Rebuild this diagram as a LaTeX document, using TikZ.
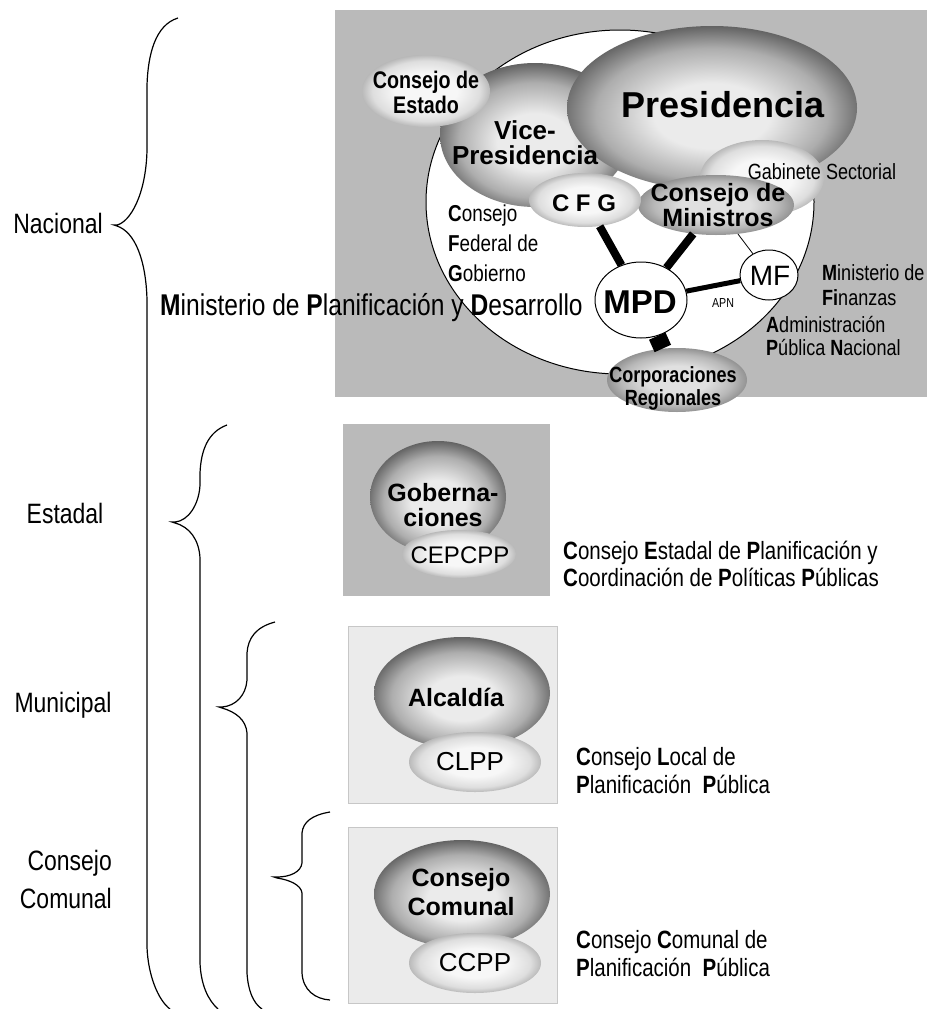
\documentclass[tikz,border=0pt]{standalone}
\usepackage{fontspec}
\setmainfont{Liberation Sans}
\newfontfamily\agency[FakeStretch=0.82]{Liberation Sans}
\usetikzlibrary{shapes.geometric}
\newcommand\myfs[2]{\fontsize{#1}{#2}\selectfont}
\definecolor{panelgray}{gray}{0.73}
\definecolor{lightpanel}{gray}{0.92}
\definecolor{panelborder}{gray}{0.78}
\definecolor{shA}{gray}{0.92}
\definecolor{shB}{gray}{0.68}
\definecolor{shC}{gray}{0.36}
\definecolor{ltA}{gray}{0.97}
\definecolor{ltB}{gray}{0.87}
\definecolor{ltC}{gray}{0.66}
\definecolor{mdA}{gray}{0.88}
\definecolor{mdB}{gray}{0.72}
\definecolor{mdC}{gray}{0.52}
\pgfdeclareradialshading{darkball}{\pgfpoint{0bp}{-3bp}}{color(0bp)=(shA); color(10bp)=(shA); color(20bp)=(shB); color(27bp)=(shC); color(50bp)=(shC)}
\pgfdeclareradialshading{lightball}{\pgfpoint{0bp}{0bp}}{color(0bp)=(ltA); color(12bp)=(ltA); color(21bp)=(ltB); color(27bp)=(ltC); color(50bp)=(ltC)}
\pgfdeclareradialshading{mediumball}{\pgfpoint{0bp}{0bp}}{color(0bp)=(mdA); color(11bp)=(mdA); color(20bp)=(mdB); color(27bp)=(mdC); color(50bp)=(mdC)}
\begin{document}
\begin{tikzpicture}[x=1pt,y=-1pt,
  bigball/.style={ellipse, inner sep=0pt, shade, shading=darkball},
  smallball/.style={ellipse, inner sep=0pt, shade, shading=lightball},
  midball/.style={ellipse, inner sep=0pt, shade, shading=mediumball},
  whiteball/.style={ellipse, inner sep=0pt, fill=white, draw=black, line width=1pt},
  brace/.style={draw=black, line width=1.2pt},
  level/.style={font=\agency\myfs{28}{38}, inner sep=0pt, align=right},
  desc/.style={font=\agency\myfs{25}{27}, inner sep=0pt, align=left, anchor=west},
  small/.style={font=\agency\myfs{22}{25}, inner sep=0pt, align=left, anchor=west},
  condbold/.style={font=\agency\bfseries\myfs{24}{25}, inner sep=0pt, align=center},
  ballbold/.style={font=\bfseries\myfs{25}{27}, inner sep=0pt, align=center},
  ballreg/.style={font=\myfs{25}{27}, inner sep=0pt, align=center},
  thick link/.style={line width=8pt, draw=black}
]
\useasboundingbox (0,0) rectangle (927,1009);

% panels
\fill[panelgray] (335,10) rectangle (927,397);
\fill[panelgray] (343,424) rectangle (550,596);
\filldraw[fill=lightpanel, draw=panelborder, line width=1pt] (348,626) rectangle (557,803);
\filldraw[fill=lightpanel, draw=panelborder, line width=1pt] (348,827) rectangle (557,1003);

% national diagram
\node[whiteball, minimum width=388pt, minimum height=344pt] (zone) at (620,202) {};
\node[bigball, minimum width=190pt, minimum height=144pt] (vice) at (535,135) {};
\node[smallball, minimum width=128pt, minimum height=72pt] (estado) at (426,91) {};
\node[bigball, minimum width=290pt, minimum height=164pt] (pres) at (712,108) {};
\node[smallball, minimum width=124pt, minimum height=76pt] (gab) at (762,178) {};
\node[midball, minimum width=156pt, minimum height=60pt] (min) at (716,205) {};
\node[smallball, minimum width=112pt, minimum height=54pt] (cfg) at (585,200) {};
\node[whiteball, minimum width=92pt, minimum height=76pt] (mpd) at (641,300) {};
\node[whiteball, minimum width=58pt, minimum height=50pt] (mf) at (769,275) {};
\node[midball, minimum width=140pt, minimum height=64pt] (corp) at (677,380) {};

\draw[thick link] (cfg) -- (mpd);
\draw[thick link] (min) -- (mpd);
\draw[line width=5pt] (mpd) -- (mf);
\draw[line width=18pt] (mpd) -- (corp);
\draw[line width=0.8pt] (min) -- (mf);

\node[font=\bfseries\myfs{36}{38}, inner sep=0pt] (tpres) at (723,105) {Presidencia};
\node[ballbold, font=\bfseries\myfs{26}{25}] (tvice) at (525,143) {Vice-\\Presidencia};
\node[condbold] (testado) at (426,92) {Consejo de\\Estado};
\node[ballbold, font=\bfseries\myfs{24}{26}] (tcfg) at (584,203) {C F G};
\node[ballbold, font=\bfseries\myfs{25}{25}] (tmin) at (718,205) {Consejo de\\Ministros};
\node[font=\agency\myfs{22}{24}, inner sep=0pt] (tgab) at (822,172) {Gabinete Sectorial};
\node[font=\bfseries\myfs{33}{35}, inner sep=0pt] (tmpd) at (640,302) {MPD};
\node[font=\myfs{28}{30}, inner sep=0pt] (tmf) at (770,276) {MF};
\node[condbold, font=\agency\bfseries\myfs{22}{23}] (tcorp) at (673,388) {Corporaciones\\Regionales};
\node[font=\agency\myfs{13}{14}, inner sep=0pt] (tapn) at (723,303) {APN};

\node[font=\agency\myfs{23}{30}, inner sep=0pt, align=left, anchor=west] (tcfgd) at (448,243) {\textbf{C}onsejo\\\textbf{F}ederal de\\\textbf{G}obierno};
\node[small] (tmfd) at (822,285) {\textbf{M}inisterio de\\\textbf{Fi}nanzas};
\node[small, font=\agency\myfs{22}{23}] (tapnd) at (766,336) {\textbf{A}dministración\\\textbf{P}ública \textbf{N}acional};
\node[font=\agency\myfs{30}{32}, inner sep=0pt, anchor=west] (tmpdd) at (160,308) {\textbf{M}inisterio de \textbf{P}lanificación y \textbf{D}esarrollo};

% estadal
\node[bigball, minimum width=136pt, minimum height=112pt] (gob) at (438,497) {};
\node[smallball, minimum width=114pt, minimum height=48pt] (cep) at (459,554) {};
\node[ballbold, font=\bfseries\myfs{25}{25}] (tgob) at (443,505) {Goberna-\\ciones};
\node[ballreg, font=\myfs{24}{26}] (tcep) at (460,555) {CEPCPP};
\node[desc] (tcepd) at (563,564) {\textbf{C}onsejo \textbf{E}stadal de \textbf{P}lanificación y\\\textbf{C}oordinación de \textbf{P}olíticas \textbf{P}úblicas};

% municipal
\node[bigball, minimum width=176pt, minimum height=112pt] (alc) at (462,693) {};
\node[smallball, minimum width=132pt, minimum height=60pt] (clpp) at (475,762) {};
\node[ballbold] (talc) at (456,697) {Alcaldía};
\node[ballreg, font=\myfs{26}{28}] (tclpp) at (470,762) {CLPP};
\node[desc, font=\agency\myfs{25}{28}] (tclppd) at (576,771) {\textbf{C}onsejo \textbf{L}ocal de\\\textbf{P}lanificación\ \ \textbf{P}ública};

% comunal
\node[bigball, minimum width=176pt, minimum height=108pt] (cc) at (462,894) {};
\node[smallball, minimum width=132pt, minimum height=60pt] (ccpp) at (475,963) {};
\node[ballbold, font=\bfseries\myfs{25}{29}] (tcc) at (461,892) {Consejo\\Comunal};
\node[ballreg, font=\myfs{26}{28}] (tccpp) at (475,963) {CCPP};
\node[desc, font=\agency\myfs{25}{28}] (tccppd) at (576,954) {\textbf{C}onsejo \textbf{C}omunal de\\\textbf{P}lanificación\ \ \textbf{P}ública};

% level labels
\node[level] (lnac) at (58,223) {Nacional};
\node[level] (lest) at (65,513) {Estadal};
\node[level] (lmun) at (63,705) {Municipal};
\node[level, anchor=east] (lcom) at (112,879) {Consejo\\Comunal};

% braces
\draw[brace] (178,18) .. controls (155,25) and (148,55) .. (147,85) -- (147,150)
  .. controls (146,195) and (130,222) .. (117,225) -- (114,225) -- (117,226)
  .. controls (135,232) and (146,260) .. (147,300) -- (147,947)
  .. controls (148,975) and (158,1000) .. (170,1009);
\draw[brace] (227,425) .. controls (208,432) and (201,450) .. (200,473) -- (200,485)
  .. controls (199,505) and (188,521) .. (175,522) -- (172,522) -- (175,523)
  .. controls (190,527) and (199,540) .. (200,558) -- (200,963)
  .. controls (201,985) and (208,1000) .. (218,1009);
\draw[brace] (275,622) .. controls (256,627) and (248,638) .. (247,653) -- (247,680)
  .. controls (246,695) and (236,706) .. (222,707) -- (219,707) -- (222,708)
  .. controls (236,712) and (246,720) .. (247,733) -- (247,973)
  .. controls (248,990) and (253,1003) .. (262,1009);
\draw[brace] (330,812) .. controls (312,815) and (303,822) .. (302,833) -- (302,863)
  .. controls (301,872) and (290,877) .. (277,877) -- (274,877) -- (277,878)
  .. controls (290,880) and (301,885) .. (302,893) -- (302,973)
  .. controls (303,990) and (315,999) .. (330,1000);
\end{tikzpicture}
\end{document}
